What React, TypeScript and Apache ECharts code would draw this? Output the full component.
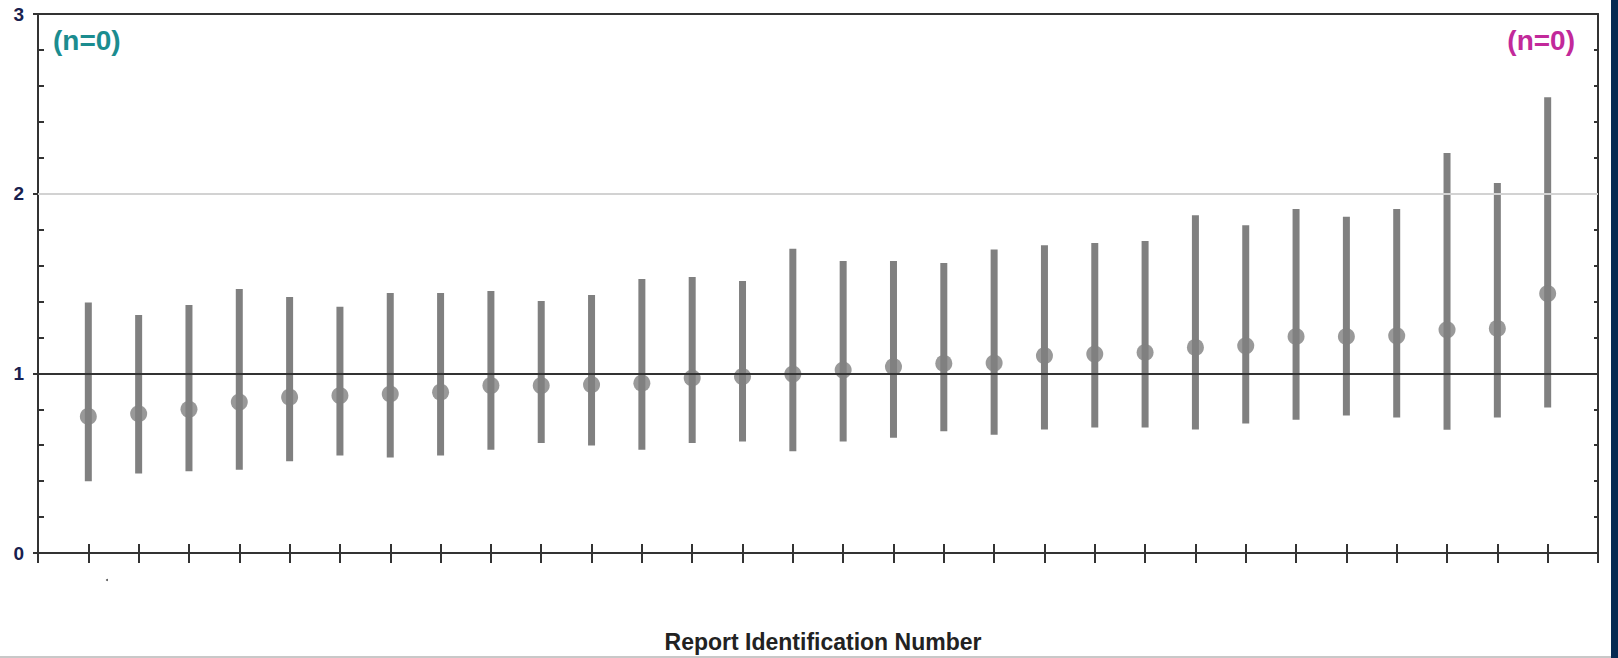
import React, { useEffect, useRef } from "react";
import * as echarts from "echarts";

// Report positions along the x axis (no labels shown in the original)
const reports = [1, 2, 3, 4, 5, 6, 7, 8, 9, 10, 11, 12, 13, 14, 15, 16, 17, 18, 19, 20, 21, 22, 23, 24, 25, 26, 27, 28, 29, 30];
// Point estimates
const estimates = [0.76, 0.775, 0.80, 0.84, 0.867, 0.876, 0.885, 0.895, 0.932, 0.932, 0.937, 0.945, 0.974, 0.982, 0.996, 1.018, 1.037, 1.055, 1.057, 1.098, 1.107, 1.116, 1.144, 1.153, 1.205, 1.205, 1.209, 1.242, 1.25, 1.444];
// Lower bounds
const lowers = [0.40, 0.442, 0.455, 0.464, 0.51, 0.543, 0.532, 0.543, 0.575, 0.612, 0.599, 0.575, 0.612, 0.621, 0.566, 0.621, 0.641, 0.677, 0.658, 0.688, 0.699, 0.699, 0.688, 0.721, 0.741, 0.765, 0.754, 0.686, 0.754, 0.81];
// Upper bounds
const uppers = [1.394, 1.325, 1.381, 1.47, 1.425, 1.37, 1.447, 1.447, 1.458, 1.403, 1.436, 1.525, 1.536, 1.514, 1.693, 1.625, 1.625, 1.614, 1.689, 1.713, 1.725, 1.736, 1.88, 1.824, 1.915, 1.871, 1.915, 2.226, 2.059, 2.536];
// Y axis range / reference lines
const yTicks = [0, 1, 2, 3];
const refLines = [1, 2];
const leftCount = "(n=0)";
const rightCount = "(n=0)";
const xTitle = "Report Identification Number";

const AXIS = "#333333";
const MARK = "#808080";
const FONT = "'Liberation Sans', Arial, sans-serif";

export default function App() {
  const ref = useRef<HTMLDivElement>(null);
  useEffect(() => {
    if (!ref.current) return;
    const chart = echarts.init(ref.current, null, { renderer: "svg" });
    const ranges = reports.map((r, i) => [r, lowers[i], uppers[i]]);
    const points = reports.map((r, i) => [r, estimates[i]]);
    chart.setOption({
      animation: false,
      backgroundColor: "#ffffff",
      grid: { left: 38, right: 20, top: 14, bottom: 102, containLabel: false },
      xAxis: [
        {
          type: "value", min: 0, max: 31, interval: 1, position: "bottom",
          axisLine: { show: true, onZero: false, lineStyle: { color: AXIS, width: 2 } },
          axisTick: { show: true, inside: false, length: 10, lineStyle: { color: AXIS, width: 2 } },
          axisLabel: { show: false }, splitLine: { show: false },
          name: xTitle, nameLocation: "middle", nameGap: 77,
          nameTextStyle: { fontFamily: FONT, fontWeight: "bold", fontSize: 23, color: "#222222", padding: [0, 0, 0, 10] },
        },
        {
          type: "value", min: 0, max: 31, interval: 1, position: "bottom",
          axisLine: { show: false, onZero: false },
          axisTick: { show: true, inside: true, length: 9, lineStyle: { color: AXIS, width: 2 } },
          axisLabel: { show: false }, splitLine: { show: false },
        },
        {
          type: "value", min: 0, max: 31, interval: 1, position: "top",
          axisLine: { show: true, onZero: false, lineStyle: { color: AXIS, width: 2 } },
          axisTick: { show: false }, axisLabel: { show: false }, splitLine: { show: false },
        },
      ],
      yAxis: [
        {
          type: "value", min: yTicks[0], max: yTicks[yTicks.length - 1], interval: 1, position: "left",
          axisLine: { show: true, onZero: false, lineStyle: { color: AXIS, width: 2 } },
          axisTick: { show: true, inside: false, length: 5, lineStyle: { color: AXIS, width: 2 } },
          axisLabel: { show: true, margin: 14, fontFamily: FONT, fontWeight: "bold", fontSize: 19, color: "#18204e" },
          splitLine: { show: false },
        },
        {
          type: "value", min: 0, max: 3, interval: 0.2, position: "left",
          axisLine: { show: false, onZero: false },
          axisTick: { show: true, inside: true, length: 6, lineStyle: { color: AXIS, width: 2 } },
          axisLabel: { show: false }, splitLine: { show: false },
        },
        {
          type: "value", min: 0, max: 3, interval: 0.2, position: "right",
          axisLine: { show: true, onZero: false, lineStyle: { color: AXIS, width: 2 } },
          axisTick: { show: true, inside: true, length: 4, lineStyle: { color: AXIS, width: 2 } },
          axisLabel: { show: false }, splitLine: { show: false },
        },
      ],
      series: [
        {
          type: "line", data: [], z: 1, silent: true,
          markLine: {
            silent: true, symbol: "none", label: { show: false },
            data: refLines.map((v) => ({
              yAxis: v,
              lineStyle: { color: v === 1 ? "#333333" : "#d2d2d2", width: 2, type: "solid" },
            })),
          },
        },
        {
          type: "custom", z: 3, silent: true,
          data: ranges,
          encode: { x: 0, y: [1, 2] },
          renderItem: (params: any, api: any) => {
            const x = api.value(0);
            const lo = api.coord([x, api.value(1)]);
            const hi = api.coord([x, api.value(2)]);
            return {
              type: "rect",
              shape: { x: lo[0] - 3.5, y: hi[1], width: 7, height: lo[1] - hi[1] },
              style: { fill: MARK },
            };
          },
        },
        {
          type: "scatter", z: 4, silent: true,
          data: points, symbol: "circle", symbolSize: 17,
          itemStyle: { color: MARK },
        },
      ],
      graphic: [
        { type: "rect", left: 1611, top: 0, shape: { width: 7, height: 658 }, style: { fill: "#062a52" }, silent: true },
        { type: "rect", left: 0, top: 656, shape: { width: 1611, height: 2 }, style: { fill: "#c8c8c8" }, silent: true },
        { type: "circle", left: 106, top: 579, shape: { r: 1 }, style: { fill: "#555555" }, silent: true },
        {
          type: "text", left: 53, top: 26, silent: true,
          style: { text: leftCount, font: `bold 28px ${FONT}`, fill: "#1b8c8f" },
        },
        {
          type: "text", right: 43, top: 26, silent: true,
          style: { text: rightCount, font: `bold 28px ${FONT}`, fill: "#c2299a" },
        },
      ],
    });
    return () => chart.dispose();
  }, []);
  return (
    <div
      ref={ref}
      style={{ position: "absolute", left: 0, top: 0, width: 1618, height: 658, background: "#ffffff" }}
    />
  );
}
